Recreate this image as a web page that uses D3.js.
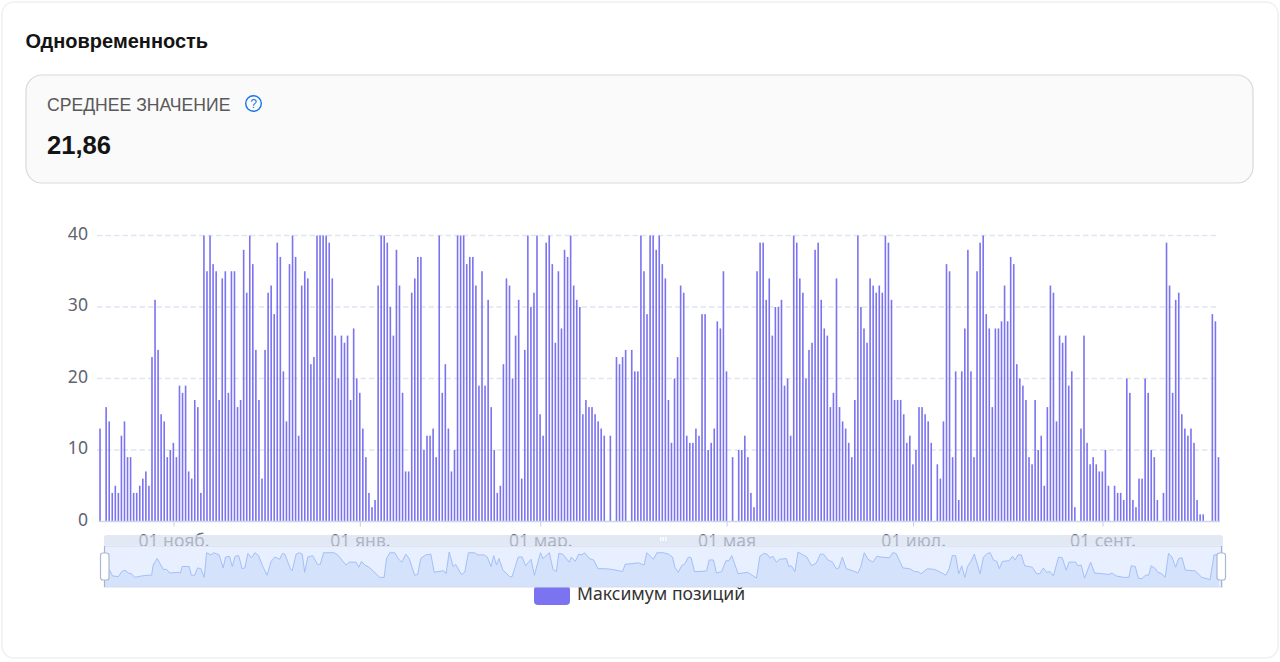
<!DOCTYPE html>
<html lang="ru">
<head>
<meta charset="utf-8">
<script src="https://cdn.jsdelivr.net/npm/d3@7"></script>
<style>
html,body{margin:0;padding:0;background:#fff;width:1280px;height:662px;overflow:hidden}
svg{display:block}
</style>
</head>
<body>
<svg id="c" width="1280" height="662"></svg>
<script>
const titleText = "Одновременность";
const kpiLabel = "СРЕДНЕЕ ЗНАЧЕНИЕ";
const kpiValue = "21,86";
const seriesName = "Максимум позиций";
const startDate = "2024-10-08";
const tickDates = ["2024-11-01","2025-01-01","2025-03-01","2025-05-01","2025-07-01","2025-09-01"];
const tickLabels = ["01 нояб.","01 янв.","01 мар.","01 мая","01 июл.","01 сент."];
const yTicks = [0,10,20,30,40];
const maxPositions = [
13,0,16,14,4,5,4,12,14,9,9,4,4,5,6,7,5,23,31,24,15,14,9,10,11,9,19,18,19,7,6,17,16,4,40,35,40,36,35,17,34,35,18,35,35,16,17,38,32,40,36,24,17,6,24,32,33,29,39,37,21,14,36,40,37,12,33,35,34,22,23,40,40,40,40,39,34,26,20,26,25,26,17,27,20,18,13,9,4,2,3,
33,40,40,39,30,26,38,33,18,7,7,32,34,37,37,10,12,12,13,9,40,18,22,13,7,10,40,40,40,36,37,37,33,19,35,19,31,16,10,4,5,22,34,33,20,26,31,6,24,40,30,32,40,15,12,39,40,36,25,35,27,38,37,40,33,31,30,15,17,16,16,15,14,13,12,0,12,0,23,22,23,24,0,24,21,21,40,35,29,40,40,38,40,
36,34,17,11,20,23,33,32,12,11,11,13,12,29,29,10,11,13,28,27,35,21,0,9,0,10,10,12,9,4,2,35,39,39,31,34,26,30,30,31,19,20,12,40,39,34,32,20,24,25,38,39,31,27,26,16,18,34,16,14,13,11,9,17,40,30,27,25,34,33,32,33,32,40,39,31,17,17,17,15,11,12,8,10,16,16,15,14,11,0,
8,6,14,36,35,9,21,3,21,27,38,21,9,35,39,40,29,27,16,27,27,28,33,28,37,36,22,20,19,17,9,8,17,10,12,5,16,33,32,14,26,25,26,19,21,2,0,13,26,11,8,9,8,7,7,10,5,0,5,4,4,3,20,18,3,2,6,6,20,18,10,9,3,0,4,39,33,18,31,32,15,13,12,13,11,3,1,1,0,0,29,28,9
];
const overviewDays = [
0,1.7,2.8,4.7,5.8,6.9,8,9,10.1,12.3,15,15.6,16.1,17.4,19.4,20.5,21.5,24.3,25,25.6,27.9,28.6,29.7,30.6,31.7,32.8,33.6,35,35.9,37.7,39,39.8,41.1,42,42.9,44.1,45.2,46.1,47.1,48.3,49.4,50.6,52,53.4,54.7,55.9,57.5,58.4,59.2,61,61.6,62.9,64,64.9,65.7,66.7,68.3,69.9,70.8,71.9,75.4,76.5,79.2,80.3,82.5,83.4,84.3,85.4,86.8,90.3,91.7,
92.5,93.6,95.2,96.3,97.5,98.8,99.9,101.7,102.7,103.7,105.3,107,108.1,110.8,111.3,112,113,114.3,115.1,117,118.1,119.3,121.3,122.4,124.4,125.5,126.7,127.6,128.5,129.3,130.6,132.8,133.6,135.6,136.9,138,139.8,140.9,142.9,143.7,145.8,147,148.1,148.9,150.2,152.3,153,154.3,155.4,156.5,157.3,158.9,160.3,161.7,164.1,166.3,169.8,170.6,172.8,175,176.8,177.7,179.9,181,183.1,
184.8,186.1,186.9,188,189.1,190.2,191.3,192.2,193.3,195.1,197.3,198.1,199.5,200.5,202.2,203.6,204.6,205.5,207.6,210.7,213.6,214.7,216,217.1,218,219,220.1,221.2,223.4,224.2,225,226.2,227.2,228.8,230.1,231.6,233.2,234.5,235.6,237,238.5,239.7,240.6,241.7,243,245.2,246.8,247.7,248.9,250.1,251.7,253,254.4,257.1,258.2,259.3,261.5,263.7,265.3,266.4,267.5,269.6,271.8,
272.9,275.6,276.7,277.7,278.8,279.8,280.8,281.8,282.7,283.8,284.9,286.8,287.9,289.2,290.1,291.2,292.3,293.1,294.1,296.3,297.4,298.3,299.2,300.3,301.4,303.9,305.3,306.4,307.5,308.6,309.7,310.8,312.5,313.7,315,315.9,318.1,318.8,319.9,321,323,324.3,326.8,329,330,331.3,333.8,335.5,336.3,337.6,338.6,339.8,340.9,342,342.8,344.2,345,346.3,347.4,348.5,349.6,350.8,351.8,352.9,354,357.2,359.4,362.1,363.4,365
];
const overviewValues = [
15,16,7,6,13,15,11,10,5,7,8,8,22,31,16,16,11,12,11,20,20,8,8,18,17,5,39,36,39,36,18,33,34,20,34,35,17,18,38,32,39,35,20,8,27,33,30,38,37,17,14,37,39,37,12,33,35,23,23,39,39,36,22,26,26,19,27,22,19,5,5,
31,39,39,31,26,37,31,8,9,31,36,37,12,14,14,10,40,20,23,9,12,39,39,36,36,33,20,35,22,31,15,6,6,33,33,21,30,8,39,31,39,16,13,38,37,26,33,27,37,36,39,31,29,17,17,16,13,23,24,25,22,39,30,39,39,
37,33,19,12,21,24,33,32,13,13,14,29,29,11,13,28,28,35,10,12,4,34,38,37,32,34,26,30,31,20,21,13,40,36,33,21,25,37,37,29,26,17,18,33,17,14,11,19,39,30,26,34,33,32,39,38,18,17,13,13,10,17,16,
14,8,17,35,35,10,21,5,20,27,37,10,33,38,39,29,27,17,27,28,34,29,36,36,21,19,10,10,18,12,13,7,33,32,15,26,26,21,22,4,26,11,10,9,11,7,5,5,21,20,4,3,8,8,21,17,12,10,5,38,33,19,31,32,15,14,5,2,36,36
];

const svg = d3.select("#c");
const FONT = "'Noto Sans', sans-serif";
const UI = "'Liberation Sans', Arial, sans-serif";
const PURPLE = "#7b73f0";

// card
svg.append("rect").attr("x",2).attr("y",2).attr("width",1276).attr("height",656).attr("rx",12)
  .attr("fill","#fff").attr("stroke","#f0f0f0").attr("stroke-width",1.5);
svg.append("text").attr("x",25.5).attr("y",48).attr("font-family",UI).attr("font-size",20)
  .attr("font-weight",700).attr("fill","#141414").text(titleText);
svg.append("rect").attr("x",26).attr("y",75).attr("width",1227).attr("height",108).attr("rx",16)
  .attr("fill","#fafafa").attr("stroke","#d9d9d9").attr("stroke-width",1.2);
svg.append("text").attr("x",47).attr("y",111).attr("font-family",UI).attr("font-size",17.6)
  .attr("fill","#595959").text(kpiLabel);
svg.append("text").attr("x",47).attr("y",154).attr("font-family",UI).attr("font-size",25.6)
  .attr("font-weight",700).attr("fill","#141414").text(kpiValue);
svg.append("circle").attr("cx",253.5).attr("cy",103.5).attr("r",7.8).attr("fill","none")
  .attr("stroke","#1677e6").attr("stroke-width",1.4);
svg.append("text").attr("x",253.5).attr("y",108).attr("text-anchor","middle").attr("font-family",UI)
  .attr("font-size",12).attr("fill","#1677e6").text("?");

// scales
const parse = d3.utcParse("%Y-%m-%d");
const start = parse(startDate);
const N = maxPositions.length;
const dates = maxPositions.map((_,i)=>d3.utcDay.offset(start,i));
const x = d3.scaleBand().domain(dates.map(d=>+d)).range([98.5,1220]);
const y = d3.scaleLinear().domain([0,40]).range([521.5,235.5]);

// grid
const grid = svg.append("g");
grid.selectAll("line").data(yTicks.filter(d=>d>0)).join("line")
  .attr("x1",97).attr("x2",1219).attr("y1",d=>y(d)).attr("y2",d=>y(d))
  .attr("stroke","#e0e6f1").attr("stroke-width",1.5).attr("stroke-dasharray","5.5 3");

// y axis
const yAxis = svg.append("g").attr("transform","translate(97,0)")
  .call(d3.axisLeft(y).tickValues(yTicks).tickSize(0).tickPadding(9));
yAxis.select(".domain").remove();
yAxis.selectAll("text").attr("font-family",FONT).attr("font-size",17.6).attr("fill","#5f6472")
  .attr("dy","0.2em");

// bars
svg.append("g").selectAll("rect").data(dates.map((d,i)=>({d,v:maxPositions[i]})).filter(r=>r.v>0)).join("rect")
  .attr("x",r=>x(+r.d)+x.bandwidth()/2-0.8).attr("width",1.6)
  .attr("y",r=>y(r.v)).attr("height",r=>y(0)-y(r.v)).attr("fill",PURPLE);

// x axis
const tickKeys = tickDates.map(s=>+parse(s));
const xAxis = svg.append("g").attr("transform","translate(0.6,521.5)")
  .call(d3.axisBottom(x).tickValues(tickKeys).tickSize(5).tickPadding(8)
    .tickFormat((d,i)=>tickLabels[i]));
xAxis.select(".domain").attr("stroke","#ccd6eb").attr("stroke-width",1.4).attr("d","M98,0H1219.4");
xAxis.selectAll("line").attr("stroke","#ccd6eb").attr("stroke-width",1.2);
xAxis.selectAll("text").attr("font-family",FONT).attr("font-size",17.6).attr("fill","#6e7079");

// legend
svg.append("rect").attr("x",534).attr("y",586).attr("width",36).attr("height",19).attr("rx",4).attr("fill",PURPLE);
svg.append("text").attr("x",577).attr("y",600).attr("font-family",FONT).attr("font-size",17.6)
  .attr("fill","#333").text(seriesName);

// slider
const ox = d3.scaleLinear().domain([0,N-1]).range([104,1222]);
const oy = d3.scaleLinear().domain([0,40]).range([581,552]);
svg.append("path").attr("d","M104,545V538a3,3 0 0 1 3,-3H1220a3,3 0 0 1 3,3V545Z")
  .attr("fill","#d2dbee").attr("fill-opacity",.65);
svg.append("rect").attr("x",104).attr("y",546).attr("width",1119).attr("height",41).attr("fill","#e8effe");
const pts = overviewDays.map((d,i)=>[d,overviewValues[i]]);
svg.append("path").datum(pts).attr("fill","#d4e2fc")
  .attr("d",d3.area().x(p=>ox(p[0])).y0(587).y1(p=>oy(p[1])));
svg.append("path").datum(pts).attr("fill","none").attr("stroke","#a3bffa").attr("stroke-width",1)
  .attr("d",d3.line().x(p=>ox(p[0])).y(p=>oy(p[1])));
svg.append("rect").attr("x",104).attr("y",545.5).attr("width",1119).attr("height",1).attr("fill","#cfd8ea");
svg.append("rect").attr("x",104).attr("y",586.5).attr("width",1119).attr("height",1).attr("fill","#d4dcee");
[660,662.5,665].forEach(g=>svg.append("rect").attr("x",g).attr("y",537).attr("width",1.4).attr("height",4).attr("fill","#fff"));
[[104.5,100.5],[1221.5,1217]].forEach(([lx,hx])=>{
  svg.append("line").attr("x1",lx).attr("x2",lx).attr("y1",546).attr("y2",587).attr("stroke","#a9b3cb").attr("stroke-width",1.2);
  svg.append("rect").attr("x",hx).attr("y",553).attr("width",8.5).attr("height",27).attr("rx",2.5)
    .attr("fill","#fff").attr("stroke","#acb8d1").attr("stroke-width",1.2);
});
</script>
</body>
</html>
